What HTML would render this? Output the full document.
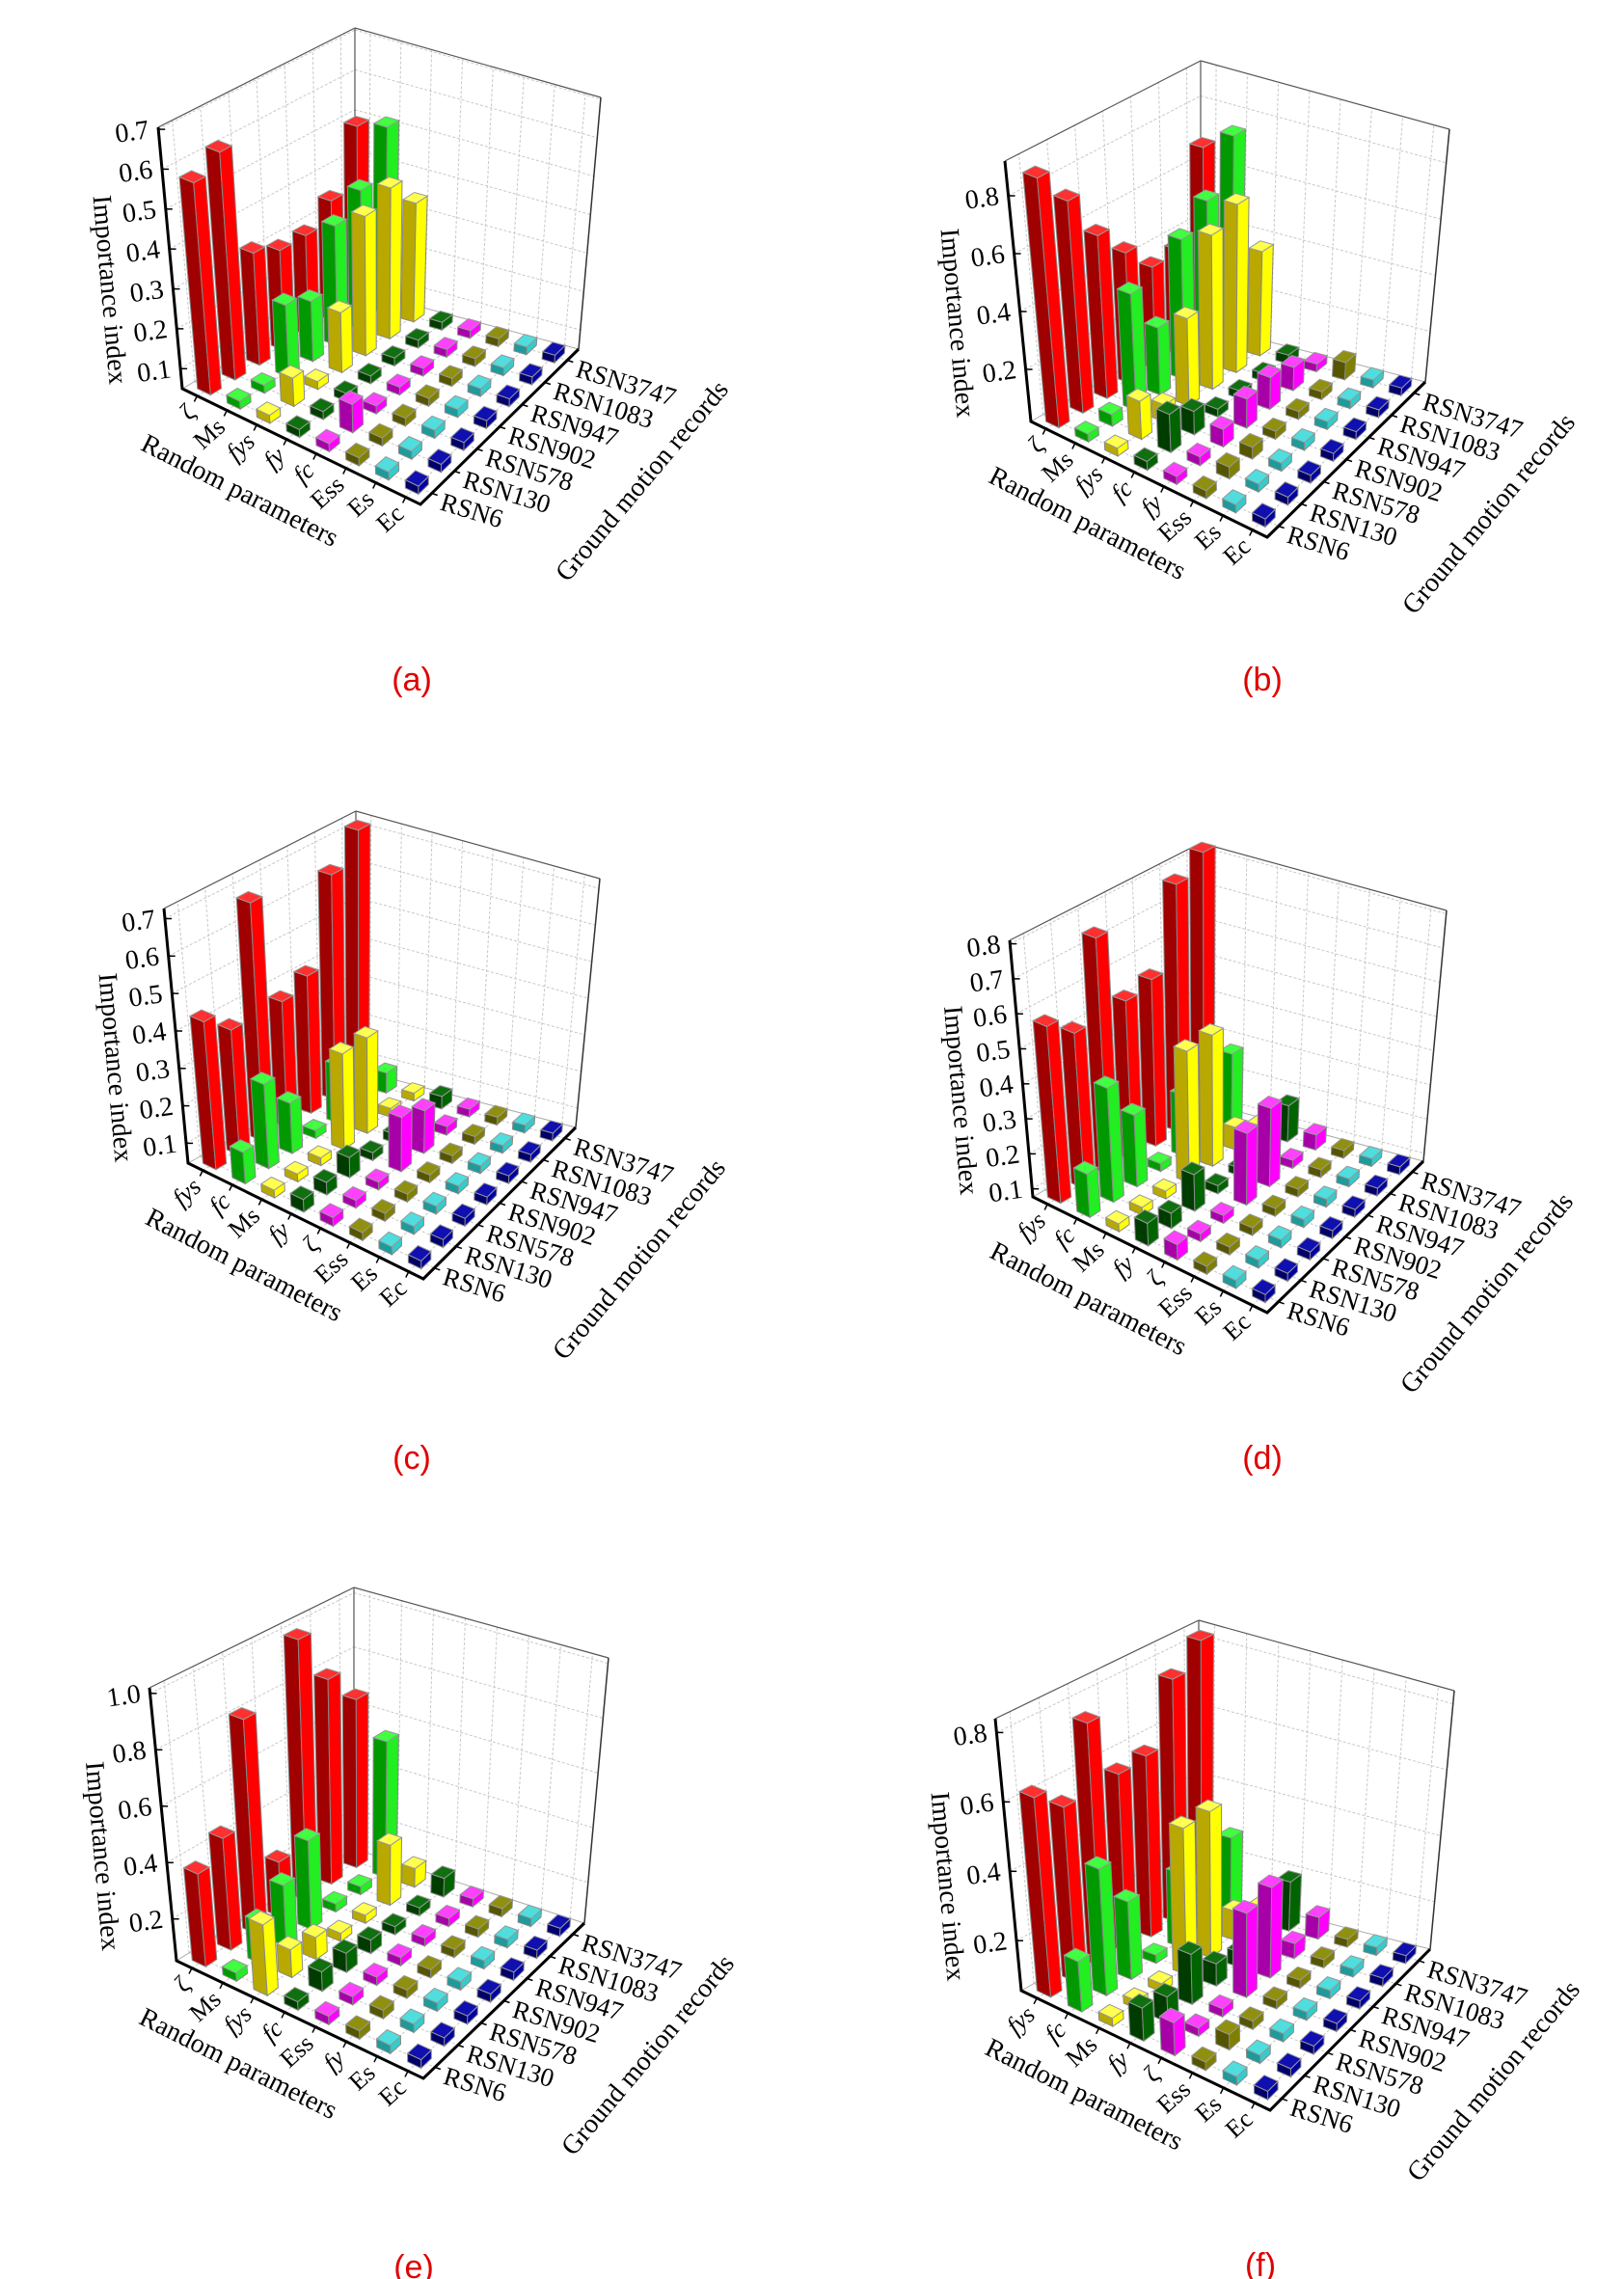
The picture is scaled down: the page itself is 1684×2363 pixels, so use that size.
<!DOCTYPE html>
<html><head><meta charset="utf-8">
<style>
html,body{margin:0;padding:0;background:#fff;}
svg{display:block;}
text{font-family:"Liberation Serif",serif;fill:#000;}
.cap{font-family:"Liberation Sans",sans-serif;fill:#e00000;}
</style></head>
<body>
<svg id="s" xmlns="http://www.w3.org/2000/svg" width="1684" height="2363" viewBox="0 0 1684 2363">
<rect width="1684" height="2363" fill="#fff"/>
</svg>
<script>
const NS="http://www.w3.org/2000/svg";
const svg=document.getElementById('s');
function el(tag,attrs,parent){const e=document.createElementNS(NS,tag);for(const k in attrs)e.setAttribute(k,attrs[k]);(parent||svg).appendChild(e);return e;}
const RECS=["RSN6","RSN130","RSN578","RSN902","RSN947","RSN1083","RSN3747"];
const COLS=[
 ["#ff3030","#ff0000","#a00000"],
 ["#40ff40","#22ee22","#009a00"],
 ["#ffff50","#ffff00","#b8a800"],
 ["#107010","#006400","#003c00"],
 ["#ff40ff","#ff00ff","#a800a8"],
 ["#909010","#808000","#555500"],
 ["#50dddd","#33cccc","#1e9a9a"],
 ["#1010b0","#0000a0","#000068"]];
const panels=[
{L:[189,403],Lt:[164,132],B:[368,300],Bt:[368,29],R:[600,362],Rt:[623,101],F:[436,523],b:.05,t:.705,ticks:[.1,.2,.3,.4,.5,.6,.7],cap:"(a)",c:[427,705],
 labels:["ζ","Ms","fys","fy","fc","Ess","Es","Ec"],
 vals:[[.58,.62,.33,.30,.30,.35,.50],[.03,.05,.23,.20,.35,.40,.52],[.02,.12,.04,.20,.40,.43,.35],[.03,.04,.04,.06,.06,.05,.04],[.05,.12,.04,.03,.02,.02,.03],[.03,.04,.03,.04,.03,.02,.04],[.02,.02,.02,.02,.02,.02,.02],[.01,.01,.01,.01,.01,.01,.01]]},
{L:[1069,437],Lt:[1042,167],B:[1245,336],Bt:[1245,63],R:[1478,396],Rt:[1503,134],F:[1314,557],b:.02,t:.92,ticks:[.2,.4,.6,.8],cap:"(b)",c:[1309,705],
 labels:["ζ","Ms","fys","fc","fy","Ess","Es","Ec"],
 vals:[[.88,.75,.58,.47,.37,.38,.68],[.03,.06,.42,.25,.50,.58,.75],[.02,.15,.08,.32,.55,.60,.38],[.05,.15,.10,.03,.02,.02,.05],[.03,.05,.08,.12,.13,.10,.04],[.03,.06,.06,.03,.02,.02,.08],[.02,.02,.02,.02,.02,.02,.02],[.01,.01,.01,.01,.01,.01,.01]]},
{L:[195,1206],Lt:[170,942],B:[369,1109],Bt:[369,841],R:[597,1169],Rt:[622,911],F:[439,1326],b:.047,t:.727,ticks:[.1,.2,.3,.4,.5,.6,.7],cap:"(c)",c:[427,1512],
 labels:["fys","fc","Ms","fy","ζ","Ess","Es","Ec"],
 vals:[[.44,.38,.68,.38,.41,.64,.72],[.13,.27,.18,.02,.20,.14,.10],[.02,.04,.04,.30,.30,.07,.05],[.08,.08,.10,.06,.07,.04,.08],[.07,.02,.02,.19,.16,.07,.05],[.02,.06,.03,.02,.02,.02,.02],[.02,.02,.02,.02,.02,.02,.02],[.01,.01,.01,.01,.01,.01,.01]]},
{L:[1071,1241],Lt:[1047,975],B:[1245,1142],Bt:[1245,874],R:[1476,1204],Rt:[1500,944],F:[1314,1361],b:.077,t:.81,ticks:[.1,.2,.3,.4,.5,.6,.7,.8],cap:"(d)",c:[1309,1512],
 labels:["fys","fc","Ms","fy","ζ","Ess","Es","Ec"],
 vals:[[.58,.52,.75,.53,.55,.78,.83],[.20,.40,.28,.02,.25,.20,.28],[.02,.06,.07,.45,.45,.14,.10],[.14,.12,.18,.10,.08,.05,.18],[.12,.03,.02,.28,.30,.10,.12],[.04,.08,.03,.03,.02,.02,.02],[.02,.02,.02,.02,.02,.02,.02],[.01,.01,.01,.01,.01,.01,.01]]},
{L:[183,2033],Lt:[155,1750],B:[367,1917],Bt:[367,1646],R:[606,1994],Rt:[631,1719],F:[439,2155],b:.052,t:1.02,ticks:[.2,.4,.6,.8,1.0],cap:"(e)",c:[429,2351],
 labels:["ζ","Ms","fys","fc","Ess","fy","Es","Ec"],
 vals:[[.38,.45,.82,.25,1.0,.80,.67],[.04,.20,.27,.37,.07,.06,.55],[.30,.15,.13,.04,.04,.27,.12],[.02,.12,.12,.10,.05,.04,.12],[.02,.06,.08,.07,.03,.05,.08],[.08,.04,.06,.03,.08,.03,.03],[.03,.03,.03,.03,.03,.03,.03],[.02,.02,.02,.02,.02,.02,.02]]},
{L:[1059,2064],Lt:[1032,1782],B:[1243,1960],Bt:[1243,1680],R:[1483,2021],Rt:[1508,1753],F:[1317,2188],b:.056,t:.84,ticks:[.2,.4,.6,.8],cap:"(f)",c:[1307,2349],
 labels:["fys","fc","Ms","fy","ζ","Ess","Es","Ec"],
 vals:[[.63,.56,.76,.57,.58,.76,.83],[.20,.42,.28,.03,.27,.20,.28],[.02,.06,.07,.48,.48,.14,.10],[.15,.13,.20,.12,.10,.05,.20],[.15,.03,.03,.30,.32,.10,.12],[.03,.10,.05,.03,.02,.02,.02],[.02,.02,.02,.02,.02,.02,.02],[.01,.01,.01,.01,.01,.01,.01]]}
];
function draw(g){
 const uL=[g.Lt[0]-g.L[0],g.Lt[1]-g.L[1]],uB=[g.Bt[0]-g.B[0],g.Bt[1]-g.B[1]],uR=[g.Rt[0]-g.R[0],g.Rt[1]-g.R[1]];
 const uF=[(uL[0]+uR[0])/2,1.05*(uL[1]+uR[1])/2];
 function P(u,v,f){
  const a=(1-u)*(1-v),b=u*(1-v),c=(1-u)*v,d=u*v;
  const x=a*g.L[0]+b*g.F[0]+c*g.B[0]+d*g.R[0];
  const y=a*g.L[1]+b*g.F[1]+c*g.B[1]+d*g.R[1];
  const ux=a*uL[0]+b*uF[0]+c*uB[0]+d*uR[0];
  const uy=a*uL[1]+b*uF[1]+c*uB[1]+d*uR[1];
  return [x+ux*f,y+uy*f];}
 const fr=v=>(v-g.b)/(g.t-g.b);
 const line=(p,q,st,w,dash)=>el('line',{x1:p[0].toFixed(1),y1:p[1].toFixed(1),x2:q[0].toFixed(1),y2:q[1].toFixed(1),stroke:st,'stroke-width':w,'stroke-dasharray':dash||'none'});
 const poly=(pts,fill,st)=>el('polygon',{points:pts.map(p=>p[0].toFixed(1)+','+p[1].toFixed(1)).join(' '),fill:fill,stroke:st||'none','stroke-width':1});
 const ui=i=>(i+.5)/8, vj=j=>(j+.5)/7;
 const gc="#c8c8c8";
 g.ticks.forEach(t=>{const f=fr(t);line(P(0,0,f),P(0,1,f),gc,1,"3,2");line(P(0,1,f),P(1,1,f),gc,1,"3,2");});
 for(let j=0;j<7;j++){line(P(0,vj(j),0),P(0,vj(j),1),gc,1,"3,2");line(P(0,vj(j),0),P(1,vj(j),0),gc,1,"3,2");}
 for(let i=0;i<8;i++){line(P(ui(i),1,0),P(ui(i),1,1),gc,1,"3,2");line(P(ui(i),0,0),P(ui(i),1,0),gc,1,"3,2");}
 line(P(0,0,1),P(0,1,1),"#555",1.2);line(P(0,1,1),P(1,1,1),"#555",1.2);line(P(1,1,1),P(1,1,0),"#333",1.5);
 line(P(0,1,0),P(0,1,1),"#555",1.2);line(P(0,0,0),P(0,1,0),"#aaa",1);line(P(0,1,0),P(1,1,0),"#aaa",1);
 const du=.22/8,dv=.22/7,list=[];
 for(let i=0;i<8;i++)for(let j=0;j<7;j++)list.push([i,j]);
 list.sort((a,b)=>(ui(a[0])-vj(a[1]))-(ui(b[0])-vj(b[1])));
 list.forEach(([i,j])=>{
  const u=ui(i),v=vj(j),f=Math.max(.03,fr(g.vals[i][j])),c=COLS[i];
  const a0=P(u-du,v-dv,0),b0=P(u+du,v-dv,0),c0=P(u+du,v+dv,0);
  const a1=P(u-du,v-dv,f),b1=P(u+du,v-dv,f),c1=P(u+du,v+dv,f),d1=P(u-du,v+dv,f);
  poly([a0,b0,b1,a1],c[2],"#888");
  poly([b0,c0,c1,b1],c[1],"#888");
  poly([a1,b1,c1,d1],c[0],"#999");
 });
 el('polyline',{points:[P(0,0,1),P(0,0,0),P(1,0,0),P(1,1,0)].map(p=>p.join(',')).join(' '),fill:'none',stroke:'#000','stroke-width':3,'stroke-linejoin':'miter'});
 g.ticks.forEach(t=>{const p=P(0,0,fr(t));line(p,[p[0]+7,p[1]],"#000",1.5);
  const tx=el('text',{x:(p[0]-10).toFixed(1),y:(p[1]+9).toFixed(1),'text-anchor':'end','font-size':28,transform:`rotate(-8 ${p[0]-10} ${p[1]})`});tx.textContent=t.toFixed(1);});
 const mL=[(g.L[0]+g.Lt[0])/2,(g.L[1]+g.Lt[1])/2];
 let tx=el('text',{x:mL[0]-63,y:mL[1]+33,'text-anchor':'middle','dominant-baseline':'central','font-size':28,transform:`rotate(85 ${mL[0]-63} ${mL[1]+33})`});tx.textContent="Importance index";
 for(let i=0;i<8;i++){const p=P(ui(i),0,0);const x=p[0]-6,y=p[1]+13;
  const t=el('text',{x:x.toFixed(1),y:y.toFixed(1),'text-anchor':'end','dominant-baseline':'central','font-size':26,transform:`rotate(-42 ${x} ${y})`});
  if(g.labels[i][0]==='f')t.setAttribute('font-style','italic');t.textContent=g.labels[i];
  line(p,[p[0]-3,p[1]+6],"#000",1.5);}
 const mF=[(g.L[0]+g.F[0])/2,(g.L[1]+g.F[1])/2];const ang=Math.atan2(g.F[1]-g.L[1],g.F[0]-g.L[0])*180/Math.PI+1;
 tx=el('text',{x:mF[0]-64,y:mF[1]+46,'text-anchor':'middle','dominant-baseline':'central','font-size':28,transform:`rotate(${ang} ${mF[0]-64} ${mF[1]+46})`});tx.textContent="Random parameters";
 for(let j=0;j<7;j++){const p=P(1,vj(j),0);const x=p[0]+10,y=p[1]+8;
  const t=el('text',{x:x.toFixed(1),y:y.toFixed(1),'dominant-baseline':'central','font-size':27,transform:`rotate(17 ${x} ${y})`});t.textContent=RECS[j];
  line(p,[p[0]+6,p[1]+2],"#000",1.5);}
 tx=el('text',{x:g.R[0]+66,y:g.R[1]+137,'text-anchor':'middle','dominant-baseline':'central','font-size':28,transform:`rotate(-50 ${g.R[0]+66} ${g.R[1]+137})`});tx.textContent="Ground motion records";
 tx=el('text',{x:g.c[0],y:g.c[1],'text-anchor':'middle','dominant-baseline':'central','font-size':34,'class':'cap'});tx.textContent=g.cap;
}
panels.forEach(draw);
</script>
</body></html>
